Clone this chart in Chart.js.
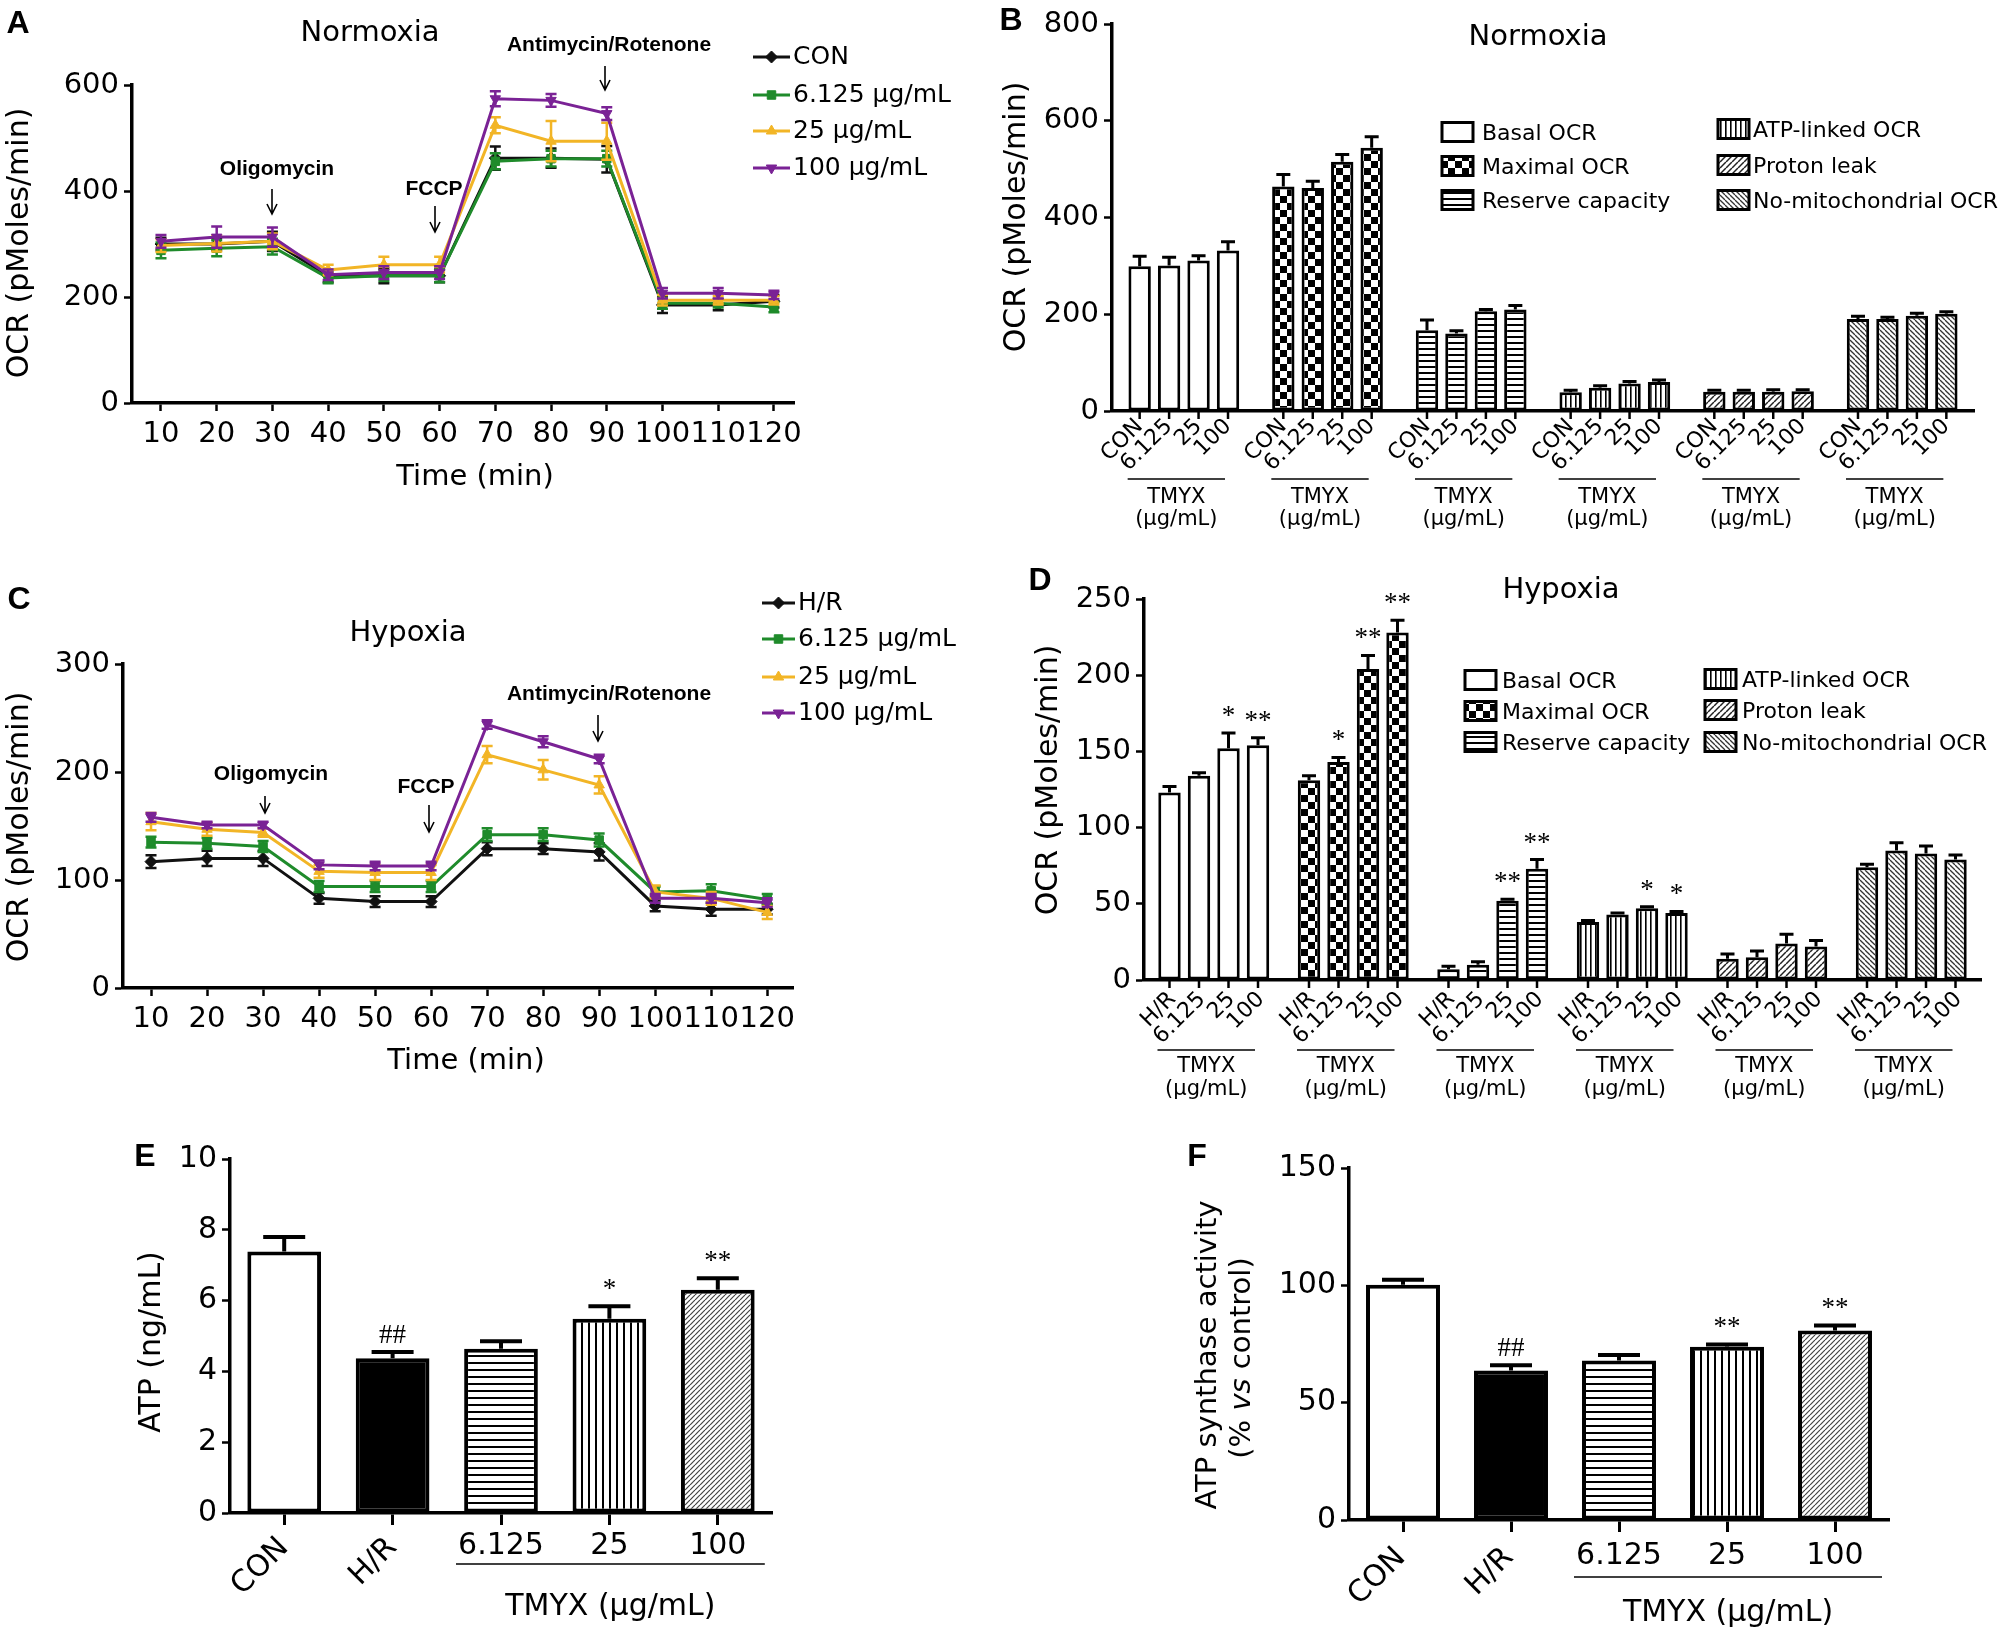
<!DOCTYPE html>
<html>
<head>
<meta charset="utf-8">
<title>TMYX OCR and ATP</title>
<script src="https://cdn.jsdelivr.net/npm/chart.js@4.4.1/dist/chart.umd.min.js"></script>
<style>
  html, body { margin: 0; padding: 0; background: #fff; }
  body { width: 2005px; height: 1633px; position: relative; overflow: hidden; }
  canvas { position: absolute; }
</style>
</head>
<body>
<canvas id="panelA"></canvas>
<canvas id="panelB"></canvas>
<canvas id="panelC"></canvas>
<canvas id="panelD"></canvas>
<canvas id="panelE"></canvas>
<canvas id="panelF"></canvas>
<script>
const SANS = "'DejaVu Sans', sans-serif";
const LETTER_FONT = "bold 32px 'Liberation Sans', Arial, sans-serif";
const NOTE_FONT = "bold 21px 'Liberation Sans', Arial, sans-serif";
const MARK_FONT = "27px 'Liberation Serif', 'Times New Roman', serif";

// ---------- data: time courses (A, C) ----------
const timePoints = [10, 20, 30, 40, 50, 60, 70, 80, 90, 100, 110, 120];

const normoxiaNames = ['CON', '6.125 µg/mL', '25 µg/mL', '100 µg/mL'];
const normCon = [300, 300, 305, 240, 240, 240, 462, 462, 460, 185, 185, 192];
const normConErr = [12, 12, 18, 12, 14, 12, 22, 18, 25, 15, 10, 12];
const norm6 = [288, 292, 295, 236, 240, 240, 456, 461, 461, 188, 188, 181];
const norm6Err = [15, 15, 15, 10, 10, 12, 15, 15, 15, 10, 8, 10];
const norm25 = [297, 301, 305, 251, 261, 261, 524, 494, 494, 194, 194, 194];
const norm25Err = [12, 15, 15, 10, 15, 15, 15, 38, 35, 10, 8, 8];
const norm100 = [305, 313, 313, 242, 246, 246, 574, 571, 546, 207, 207, 204];
const norm100Err = [12, 20, 18, 10, 12, 12, 14, 12, 12, 10, 10, 8];

const hypoxiaNames = ['H/R', '6.125 µg/mL', '25 µg/mL', '100 µg/mL'];
const hypHR = [117, 120, 120, 83, 80, 80, 129, 129, 126, 76, 73, 73];
const hypHRErr = [6, 7, 7, 5, 5, 5, 6, 5, 8, 5, 6, 5];
const hyp6 = [135, 134, 131, 94, 94, 94, 142, 142, 137, 89, 90, 82];
const hyp6Err = [5, 5, 5, 5, 5, 5, 6, 6, 6, 5, 6, 5];
const hyp25 = [154, 147, 144, 108, 107, 107, 216, 202, 188, 89, 83, 70];
const hyp25Err = [8, 6, 4, 6, 7, 7, 8, 9, 8, 6, 6, 6];
const hyp100 = [158, 151, 151, 114, 113, 113, 244, 228, 212, 83, 83, 79];
const hyp100Err = [4, 3, 3, 4, 4, 4, 4, 5, 4, 4, 4, 4];

// ---------- data: OCR parameters (B, D) ----------
const ocrParams = ['Basal OCR', 'Maximal OCR', 'Reserve capacity', 'ATP-linked OCR', 'Proton leak', 'No-mitochondrial OCR'];
const normDoses = ['CON', '6.125', '25', '100'];
const normBarCon = [299, 464, 167, 39, 40, 190];
const normBar6 = [301, 461, 160, 48, 40, 190];
const normBar25 = [311, 515, 206, 57, 40, 197];
const normBar100 = [332, 544, 210, 60, 41, 201];
const normBarConErr = [21, 25, 21, 4, 3, 6];
const normBar6Err = [17, 14, 6, 4, 3, 4];
const normBar25Err = [10, 15, 4, 4, 4, 5];
const normBar100Err = [18, 23, 8, 4, 3, 4];

const hypDoses = ['H/R', '6.125', '25', '100'];
const hypBarHR = [123, 131, 7, 38, 14, 74];
const hypBar6 = [134, 143, 10, 43, 15, 85];
const hypBar25 = [152, 204, 52, 47, 24, 83];
const hypBar100 = [154, 228, 73, 44, 22, 79];
const hypBarHRErr = [4, 3, 2, 1, 3, 2];
const hypBar6Err = [2, 3, 2, 1, 4, 5];
const hypBar25Err = [10, 9, 1, 1, 6, 5];
const hypBar100Err = [5, 8, 6, 1, 4, 3];
const hypMarksHR = ['', '', '', '', '', ''];
const hypMarks6 = ['', '*', '', '', '', ''];
const hypMarks25 = ['*', '**', '**', '*', '', ''];
const hypMarks100 = ['**', '**', '**', '*', '', ''];

// ---------- data: ATP (E) and ATP synthase (F) ----------
const atpGroups = ['CON', 'H/R', '6.125', '25', '100'];
const atpValues = [7.39, 4.37, 4.64, 5.49, 6.31];
const atpErr = [0.41, 0.18, 0.21, 0.35, 0.32];
const atpMarks = ['', '##', '', '*', '**'];
const synthValues = [100.3, 63.7, 68.0, 73.8, 80.8];
const synthErr = [2.1, 2.2, 2.3, 1.0, 2.1];
const synthMarks = ['', '##', '', '**', '**'];

const colors = { con: '#111111', low: '#1f8b2b', mid: '#f2b526', high: '#7a2295' };

// ---------- fills ----------
function makePattern(kind, size, lw, color) {
  const c = document.createElement('canvas');
  const n = kind === 'checker' ? size * 2 : size;
  c.width = n; c.height = n;
  const g = c.getContext('2d');
  g.fillStyle = '#fff';
  g.fillRect(0, 0, n, n);
  g.fillStyle = color || '#000';
  g.strokeStyle = color || '#000';
  g.lineWidth = lw;
  if (kind === 'checker') {
    g.fillRect(0, 0, size, size);
    g.fillRect(size, size, size, size);
  } else if (kind === 'h') {
    g.fillRect(0, 0, n, lw);
  } else if (kind === 'v') {
    g.fillRect(0, 0, lw, n);
  } else {
    for (let k = -1; k <= 1; k++) {
      g.beginPath();
      if (kind === 'fwd') { g.moveTo(k * n, n); g.lineTo(k * n + n, 0); }
      else { g.moveTo(k * n, 0); g.lineTo(k * n + n, n); }
      g.stroke();
    }
  }
  return g.createPattern(c, 'repeat');
}

const ocrFills = [
  '#ffffff',
  makePattern('checker', 7, 0),
  makePattern('h', 6, 2),
  makePattern('v', 5, 1.6),
  makePattern('fwd', 6, 1.5, '#222'),
  makePattern('back', 5, 1.3, '#333')
];
const atpFills = [
  '#ffffff',
  '#000000',
  makePattern('h', 7, 2),
  makePattern('v', 7, 2),
  makePattern('fwd', 5, 1.2, '#444')
];

// ---------- helpers ----------
function setupCanvas(id, box) {
  const el = document.getElementById(id);
  el.width = box.w;
  el.height = box.h;
  el.style.left = box.x + 'px';
  el.style.top = box.y + 'px';
  el.style.width = box.w + 'px';
  el.style.height = box.h + 'px';
  return el;
}

function paddingFor(box, plot, yW, xH) {
  return {
    left: plot.l - box.x - yW,
    right: box.x + box.w - plot.r,
    top: plot.t - box.y,
    bottom: box.y + box.h - plot.b - xH
  };
}

function yAxis(min, max, step, width, size) {
  return {
    min: min,
    max: max,
    ticks: { stepSize: step, color: '#000', font: { family: SANS, size: size }, padding: 5 },
    grid: { display: true, drawOnChartArea: false, drawTicks: true, tickLength: 8, tickWidth: 2.5, tickColor: '#000' },
    border: { display: true, color: '#000', width: 3.5 },
    afterFit: s => { s.width = width; }
  };
}

function valueOf(d) { return (d !== null && typeof d === 'object') ? d.y : d; }

function drawErrors(chart, i, opts) {
  const ds = chart.data.datasets[i];
  if (!ds.errors) return;
  const meta = chart.getDatasetMeta(i);
  const yS = chart.scales.y;
  const ctx = chart.ctx;
  const hw = opts.cap / 2;
  ctx.save();
  ctx.strokeStyle = opts.color || ds.borderColor;
  ctx.lineWidth = opts.lineWidth;
  meta.data.forEach((el, j) => {
    const v = valueOf(ds.data[j]);
    const e = ds.errors[j];
    const top = yS.getPixelForValue(v + e);
    const bot = yS.getPixelForValue(opts.both ? v - e : v);
    ctx.beginPath();
    ctx.moveTo(el.x, top);
    ctx.lineTo(el.x, bot);
    ctx.moveTo(el.x - hw, top);
    ctx.lineTo(el.x + hw, top);
    if (opts.both) {
      ctx.moveTo(el.x - hw, bot);
      ctx.lineTo(el.x + hw, bot);
    }
    ctx.stroke();
  });
  ctx.restore();
}

const errorBars = {
  id: 'errorBars',
  beforeDatasetDraw(chart, args, opts) {
    if (opts.both) drawErrors(chart, args.index, opts);
  },
  afterDatasetsDraw(chart, args, opts) {
    if (opts.both) return;
    chart.data.datasets.forEach((ds, i) => drawErrors(chart, i, opts));
  }
};

const sigMarks = {
  id: 'sigMarks',
  afterDatasetsDraw(chart, args, opts) {
    const ctx = chart.ctx;
    const yS = chart.scales.y;
    ctx.save();
    ctx.font = MARK_FONT;
    ctx.fillStyle = '#000';
    ctx.textAlign = 'center';
    ctx.textBaseline = 'alphabetic';
    chart.data.datasets.forEach((ds, i) => {
      if (!ds.marks) return;
      chart.getDatasetMeta(i).data.forEach((el, j) => {
        const m = ds.marks[j];
        if (!m) return;
        const top = yS.getPixelForValue(ds.data[j] + (ds.errors ? ds.errors[j] : 0));
        ctx.fillText(m, el.x, top - opts.gap);
      });
    });
    ctx.restore();
  }
};

// per-bar dose labels + TMYX brackets under grouped bars (B, D)
const groupTicks = {
  id: 'groupTicks',
  afterDraw(chart, args, o) {
    const ctx = chart.ctx;
    const base = chart.scales.x.top;
    const n = chart.data.datasets.length;
    ctx.save();
    ctx.strokeStyle = '#000';
    ctx.fillStyle = '#000';
    ctx.lineWidth = 2.5;
    ctx.font = o.font;
    chart.data.datasets.forEach((ds, i) => {
      chart.getDatasetMeta(i).data.forEach(el => {
        ctx.beginPath();
        ctx.moveTo(el.x, base);
        ctx.lineTo(el.x, base + o.tick);
        ctx.stroke();
        ctx.save();
        ctx.translate(el.x + o.dx, base + o.dy);
        ctx.rotate(-Math.PI / 4);
        ctx.textAlign = 'right';
        ctx.textBaseline = 'middle';
        ctx.fillText(ds.label, 0, 0);
        ctx.restore();
      });
    });
    const first = chart.getDatasetMeta(0).data;
    const last = chart.getDatasetMeta(n - 1).data;
    ctx.lineWidth = 1.5;
    ctx.font = o.capFont;
    ctx.textAlign = 'center';
    ctx.textBaseline = 'middle';
    first.forEach((el, j) => {
      const x0 = el.x - 12;
      const x1 = last[j].x - 3;
      ctx.beginPath();
      ctx.moveTo(x0, base + o.lineDy);
      ctx.lineTo(x1, base + o.lineDy);
      ctx.stroke();
      o.caption.forEach((s, k) => ctx.fillText(s, (x0 + x1) / 2, base + o.capDy[k]));
    });
    ctx.restore();
  }
};

// category labels for E, F (names rotated, doses flat and bracketed)
const catLabels = {
  id: 'catLabels',
  afterDraw(chart, args, o) {
    const ctx = chart.ctx;
    const base = chart.scales.x.top;
    const els = chart.getDatasetMeta(0).data;
    const doseIdx = [];
    ctx.save();
    ctx.fillStyle = '#000';
    ctx.strokeStyle = '#000';
    ctx.font = o.font;
    chart.data.labels.forEach((lab, j) => {
      const x = els[j].x;
      if (isNaN(parseFloat(lab))) {
        ctx.save();
        ctx.translate(x + o.rotDx, base + o.rotDy);
        ctx.rotate(-Math.PI / 4);
        ctx.textAlign = 'right';
        ctx.textBaseline = 'middle';
        ctx.fillText(lab, 0, 0);
        ctx.restore();
      } else {
        doseIdx.push(j);
        ctx.textAlign = 'center';
        ctx.textBaseline = 'middle';
        ctx.fillText(lab, x, base + o.flatDy);
      }
    });
    const x0 = els[doseIdx[0]].x - 45;
    const x1 = els[doseIdx[doseIdx.length - 1]].x + 47;
    ctx.lineWidth = 1.5;
    ctx.beginPath();
    ctx.moveTo(x0, base + o.lineDy);
    ctx.lineTo(x1, base + o.lineDy);
    ctx.stroke();
    ctx.textAlign = 'center';
    ctx.textBaseline = 'middle';
    ctx.fillText(o.caption, (x0 + x1) / 2, base + o.capDy);
    ctx.restore();
  }
};

function drawItem(ctx, it, box) {
  const x = it.x - box.x;
  const y = it.y - box.y;
  ctx.save();
  ctx.fillStyle = '#000';
  ctx.strokeStyle = '#000';
  if (it.t === 'text') {
    ctx.font = it.font;
    ctx.textAlign = it.align || 'center';
    ctx.textBaseline = it.base || 'alphabetic';
    ctx.translate(x, y);
    if (it.rot) ctx.rotate(it.rot);
    ctx.fillText(it.s, 0, 0);
  } else if (it.t === 'runs') {
    ctx.translate(x, y);
    if (it.rot) ctx.rotate(it.rot);
    ctx.textAlign = 'left';
    ctx.textBaseline = 'alphabetic';
    let total = 0;
    it.runs.forEach(r => { ctx.font = r[1]; total += ctx.measureText(r[0]).width; });
    let cx = -total / 2;
    it.runs.forEach(r => { ctx.font = r[1]; ctx.fillText(r[0], cx, 0); cx += ctx.measureText(r[0]).width; });
  } else if (it.t === 'arrow') {
    const y2 = it.y2 - box.y;
    ctx.lineWidth = 1.6;
    ctx.beginPath();
    ctx.moveTo(x, y);
    ctx.lineTo(x, y2);
    ctx.moveTo(x - 5, y2 - 10);
    ctx.lineTo(x, y2);
    ctx.lineTo(x + 5, y2 - 10);
    ctx.stroke();
  } else if (it.t === 'lineKey') {
    const x2 = it.x2 - box.x;
    ctx.strokeStyle = it.color;
    ctx.fillStyle = it.color;
    ctx.lineWidth = 3;
    ctx.beginPath();
    ctx.moveTo(x, y);
    ctx.lineTo(x2, y);
    ctx.stroke();
    ctx.lineWidth = 1;
    Chart.helpers.drawPoint(ctx, { pointStyle: it.point, rotation: it.rotation || 0, radius: 6, borderWidth: 1 }, (x + x2) / 2, y);
  } else if (it.t === 'boxKey') {
    ctx.fillStyle = it.fill;
    ctx.fillRect(x, y - it.h / 2, it.w, it.h);
    ctx.lineWidth = 3;
    ctx.strokeRect(x, y - it.h / 2, it.w, it.h);
  }
  ctx.restore();
}

function decor(box, items) {
  return {
    id: 'decor',
    afterDraw(chart) { items.forEach(it => drawItem(chart.ctx, it, box)); }
  };
}

function lineLegendItems(series, rows, x1, x2, tx) {
  const out = [];
  series.forEach((s, i) => {
    out.push({ t: 'lineKey', x: x1, x2: x2, y: rows[i], color: s.color, point: s.point, rotation: s.rotation });
    out.push({ t: 'text', s: s.label, x: tx, y: rows[i], font: `25px ${SANS}`, align: 'left', base: 'middle' });
  });
  return out;
}

function barLegendItems(cols, font) {
  const out = [];
  ocrParams.forEach((p, k) => {
    const c = cols[Math.floor(k / 3)];
    const cy = c.rows[k % 3];
    out.push({ t: 'boxKey', x: c.bx, y: cy, w: 31, h: 19, fill: ocrFills[k] });
    out.push({ t: 'text', s: p, x: c.tx, y: cy + 8, font: font, align: 'left' });
  });
  return out;
}

// ---------- line panels ----------
function lineChart(id, box, plot, cfg) {
  const canvas = setupCanvas(id, box);
  const n = cfg.series.length;
  return new Chart(canvas, {
    type: 'line',
    data: {
      datasets: cfg.series.map((s, i) => ({
        label: s.label,
        data: timePoints.map((t, k) => ({ x: t, y: s.values[k] })),
        errors: s.errors,
        borderColor: s.color,
        backgroundColor: s.color,
        borderWidth: 3,
        tension: 0,
        pointStyle: s.point,
        pointRotation: s.rotation || 0,
        pointRadius: 6,
        pointBorderWidth: 1,
        order: n - 1 - i
      }))
    },
    options: {
      responsive: false,
      animation: false,
      devicePixelRatio: 1,
      layout: { padding: paddingFor(box, plot, 70, 50) },
      plugins: {
        legend: { display: false },
        tooltip: { enabled: false },
        errorBars: { both: true, cap: 11, lineWidth: 2.5 }
      },
      scales: {
        x: {
          type: 'linear',
          min: cfg.xMin,
          max: cfg.xMax,
          afterBuildTicks: s => { s.ticks = timePoints.map(v => ({ value: v })); },
          afterFit: s => { s.height = 50; },
          ticks: { autoSkip: false, maxRotation: 0, minRotation: 0, color: '#000', font: { family: SANS, size: 29 }, padding: 6 },
          grid: { display: true, drawOnChartArea: false, tickLength: 8, tickWidth: 2.5, tickColor: '#000' },
          border: { display: true, color: '#000', width: 3.5 }
        },
        y: yAxis(0, cfg.yMax, cfg.yStep, 70, 29)
      }
    },
    plugins: [errorBars, decor(box, cfg.decor.concat(lineLegendItems(cfg.series, cfg.legend.rows, cfg.legend.x1, cfg.legend.x2, cfg.legend.tx)))]
  });
}

const boxA = { x: 0, y: 0, w: 1000, h: 550 };
const seriesA = [
  { label: normoxiaNames[0], values: normCon, errors: normConErr, color: colors.con, point: 'rectRot' },
  { label: normoxiaNames[1], values: norm6, errors: norm6Err, color: colors.low, point: 'rect' },
  { label: normoxiaNames[2], values: norm25, errors: norm25Err, color: colors.mid, point: 'triangle' },
  { label: normoxiaNames[3], values: norm100, errors: norm100Err, color: colors.high, point: 'triangle', rotation: 180 }
];
lineChart('panelA', boxA, { l: 132, r: 794, t: 85, b: 403 }, {
  series: seriesA, xMin: 4.8, xMax: 123.6, yMax: 600, yStep: 200,
  legend: { rows: [57, 95, 131, 168], x1: 753, x2: 790, tx: 793 },
  decor: [
    { t: 'text', s: 'A', x: 18, y: 24, font: LETTER_FONT, base: 'middle' },
    { t: 'text', s: 'Normoxia', x: 370, y: 41, font: `29px ${SANS}` },
    { t: 'text', s: 'OCR (pMoles/min)', x: 28, y: 243, rot: -Math.PI / 2, font: `30px ${SANS}` },
    { t: 'text', s: 'Time (min)', x: 475, y: 485, font: `29px ${SANS}` },
    { t: 'text', s: 'Oligomycin', x: 277, y: 175, font: NOTE_FONT },
    { t: 'arrow', x: 272, y: 189, y2: 214 },
    { t: 'text', s: 'FCCP', x: 434, y: 195, font: NOTE_FONT },
    { t: 'arrow', x: 435, y: 206, y2: 232 },
    { t: 'text', s: 'Antimycin/Rotenone', x: 609, y: 51, font: NOTE_FONT },
    { t: 'arrow', x: 605, y: 66, y2: 90 }
  ]
});

const boxC = { x: 0, y: 550, w: 1000, h: 560 };
const seriesC = [
  { label: hypoxiaNames[0], values: hypHR, errors: hypHRErr, color: colors.con, point: 'rectRot' },
  { label: hypoxiaNames[1], values: hyp6, errors: hyp6Err, color: colors.low, point: 'rect' },
  { label: hypoxiaNames[2], values: hyp25, errors: hyp25Err, color: colors.mid, point: 'triangle' },
  { label: hypoxiaNames[3], values: hyp100, errors: hyp100Err, color: colors.high, point: 'triangle', rotation: 180 }
];
lineChart('panelC', boxC, { l: 123, r: 793, t: 664, b: 988 }, {
  series: seriesC, xMin: 5.0, xMax: 124.6, yMax: 300, yStep: 100,
  legend: { rows: [603, 639, 677, 713], x1: 762, x2: 795, tx: 798 },
  decor: [
    { t: 'text', s: 'C', x: 19, y: 600, font: LETTER_FONT, base: 'middle' },
    { t: 'text', s: 'Hypoxia', x: 408, y: 641, font: `29px ${SANS}` },
    { t: 'text', s: 'OCR (pMoles/min)', x: 28, y: 827, rot: -Math.PI / 2, font: `30px ${SANS}` },
    { t: 'text', s: 'Time (min)', x: 466, y: 1069, font: `29px ${SANS}` },
    { t: 'text', s: 'Oligomycin', x: 271, y: 780, font: NOTE_FONT },
    { t: 'arrow', x: 265, y: 796, y2: 813 },
    { t: 'text', s: 'FCCP', x: 426, y: 793, font: NOTE_FONT },
    { t: 'arrow', x: 429, y: 805, y2: 832 },
    { t: 'text', s: 'Antimycin/Rotenone', x: 609, y: 700, font: NOTE_FONT },
    { t: 'arrow', x: 598, y: 715, y2: 741 }
  ]
});

// ---------- grouped bar panels ----------
function groupedBarChart(id, box, plot, cfg) {
  const canvas = setupCanvas(id, box);
  return new Chart(canvas, {
    type: 'bar',
    data: {
      labels: ocrParams,
      datasets: cfg.doses.map((d, i) => ({
        label: d,
        data: cfg.values[i],
        errors: cfg.errors[i],
        marks: cfg.marks ? cfg.marks[i] : null,
        backgroundColor: ocrFills,
        borderColor: '#000',
        borderWidth: 3,
        borderSkipped: false,
        categoryPercentage: cfg.catPct,
        barPercentage: cfg.barPct
      }))
    },
    options: {
      responsive: false,
      animation: false,
      devicePixelRatio: 1,
      layout: { padding: paddingFor(box, plot, 70, 20) },
      plugins: {
        legend: { display: false },
        tooltip: { enabled: false },
        errorBars: { both: false, cap: 14, lineWidth: 3, color: '#000' },
        sigMarks: { gap: 9 },
        groupTicks: cfg.ticks
      },
      scales: {
        x: {
          type: 'category',
          ticks: { display: false },
          grid: { display: false },
          border: { display: true, color: '#000', width: 3.5 },
          afterFit: s => { s.height = 20; }
        },
        y: yAxis(0, cfg.yMax, cfg.yStep, 70, 29)
      }
    },
    plugins: [errorBars, sigMarks, groupTicks, decor(box, cfg.decor.concat(barLegendItems(cfg.legendCols, `22px ${SANS}`)))]
  });
}

const boxB = { x: 1000, y: 0, w: 1005, h: 550 };
groupedBarChart('panelB', boxB, { l: 1112, r: 1974, t: 24, b: 411 }, {
  doses: normDoses,
  values: [normBarCon, normBar6, normBar25, normBar100],
  errors: [normBarConErr, normBar6Err, normBar25Err, normBar100Err],
  yMax: 800, yStep: 200, catPct: 0.82, barPct: 0.76,
  ticks: { font: `22px ${SANS}`, capFont: `21px ${SANS}`, tick: 8, dx: 0, dy: 12, lineDy: 68, capDy: [87, 109], caption: ['TMYX', '(µg/mL)'] },
  legendCols: [{ bx: 1442, tx: 1482, rows: [132, 166, 200] }, { bx: 1718, tx: 1753, rows: [129, 165, 200] }],
  decor: [
    { t: 'text', s: 'B', x: 1011, y: 21, font: LETTER_FONT, base: 'middle' },
    { t: 'text', s: 'Normoxia', x: 1538, y: 45, font: `29px ${SANS}` },
    { t: 'text', s: 'OCR (pMoles/min)', x: 1025, y: 217, rot: -Math.PI / 2, font: `30px ${SANS}` }
  ]
});

const boxD = { x: 1000, y: 550, w: 1005, h: 560 };
groupedBarChart('panelD', boxD, { l: 1144, r: 1981, t: 599, b: 980 }, {
  doses: hypDoses,
  values: [hypBarHR, hypBar6, hypBar25, hypBar100],
  errors: [hypBarHRErr, hypBar6Err, hypBar25Err, hypBar100Err],
  marks: [hypMarksHR, hypMarks6, hypMarks25, hypMarks100],
  yMax: 250, yStep: 50, catPct: 0.846, barPct: 0.76,
  ticks: { font: `22px ${SANS}`, capFont: `21px ${SANS}`, tick: 8, dx: 3, dy: 16, lineDy: 70, capDy: [87, 110], caption: ['TMYX', '(µg/mL)'] },
  legendCols: [{ bx: 1465, tx: 1502, rows: [680, 711, 742] }, { bx: 1705, tx: 1742, rows: [679, 710, 742] }],
  decor: [
    { t: 'text', s: 'D', x: 1040, y: 581, font: LETTER_FONT, base: 'middle' },
    { t: 'text', s: 'Hypoxia', x: 1561, y: 598, font: `29px ${SANS}` },
    { t: 'text', s: 'OCR (pMoles/min)', x: 1057, y: 780, rot: -Math.PI / 2, font: `30px ${SANS}` }
  ]
});

// ---------- single bar panels ----------
function simpleBarChart(id, box, plot, cfg) {
  const canvas = setupCanvas(id, box);
  return new Chart(canvas, {
    type: 'bar',
    data: {
      labels: atpGroups,
      datasets: [{
        label: cfg.label,
        data: cfg.values,
        errors: cfg.errors,
        marks: cfg.marks,
        backgroundColor: atpFills,
        borderColor: '#000',
        borderWidth: 4,
        borderSkipped: false,
        categoryPercentage: 1,
        barPercentage: cfg.barPct
      }]
    },
    options: {
      responsive: false,
      animation: false,
      devicePixelRatio: 1,
      layout: { padding: paddingFor(box, plot, cfg.yW, 14) },
      plugins: {
        legend: { display: false },
        tooltip: { enabled: false },
        errorBars: { both: false, cap: 42, lineWidth: 4, color: '#000' },
        sigMarks: { gap: 9 },
        catLabels: cfg.labels
      },
      scales: {
        x: {
          type: 'category',
          ticks: { display: false },
          grid: { display: true, drawOnChartArea: false, offset: false, tickLength: 12, tickWidth: 3, tickColor: '#000' },
          border: { display: true, color: '#000', width: 3.5 },
          afterFit: s => { s.height = 14; }
        },
        y: yAxis(0, cfg.yMax, cfg.yStep, cfg.yW, 30)
      }
    },
    plugins: [errorBars, sigMarks, catLabels, decor(box, cfg.decor)]
  });
}

const boxE = { x: 0, y: 1110, w: 1000, h: 523 };
simpleBarChart('panelE', boxE, { l: 230, r: 772, t: 1159, b: 1513 }, {
  label: 'ATP (ng/mL)', values: atpValues, errors: atpErr, marks: atpMarks,
  yMax: 10, yStep: 2, yW: 60, barPct: 0.68,
  labels: { font: `30px ${SANS}`, rotDx: 0, rotDy: 30, flatDy: 33, lineDy: 51, capDy: 94, caption: 'TMYX (µg/mL)' },
  decor: [
    { t: 'text', s: 'E', x: 145, y: 1157, font: LETTER_FONT, base: 'middle' },
    { t: 'text', s: 'ATP (ng/mL)', x: 160, y: 1342, rot: -Math.PI / 2, font: `30px ${SANS}` }
  ]
});

const boxF = { x: 1000, y: 1110, w: 1005, h: 523 };
simpleBarChart('panelF', boxF, { l: 1349, r: 1889, t: 1168, b: 1520 }, {
  label: 'ATP synthase activity', values: synthValues, errors: synthErr, marks: synthMarks,
  yMax: 150, yStep: 50, yW: 72, barPct: 0.685,
  labels: { font: `30px ${SANS}`, rotDx: -2, rotDy: 33, flatDy: 36, lineDy: 57, capDy: 93, caption: 'TMYX (µg/mL)' },
  decor: [
    { t: 'text', s: 'F', x: 1197, y: 1157, font: LETTER_FONT, base: 'middle' },
    { t: 'text', s: 'ATP synthase activity', x: 1216, y: 1355, rot: -Math.PI / 2, font: `29px ${SANS}` },
    { t: 'runs', x: 1250, y: 1358, rot: -Math.PI / 2,
      runs: [['(% ', `29px ${SANS}`], ['vs', `italic 29px ${SANS}`], [' control)', `29px ${SANS}`]] }
  ]
});
</script>
</body>
</html>
